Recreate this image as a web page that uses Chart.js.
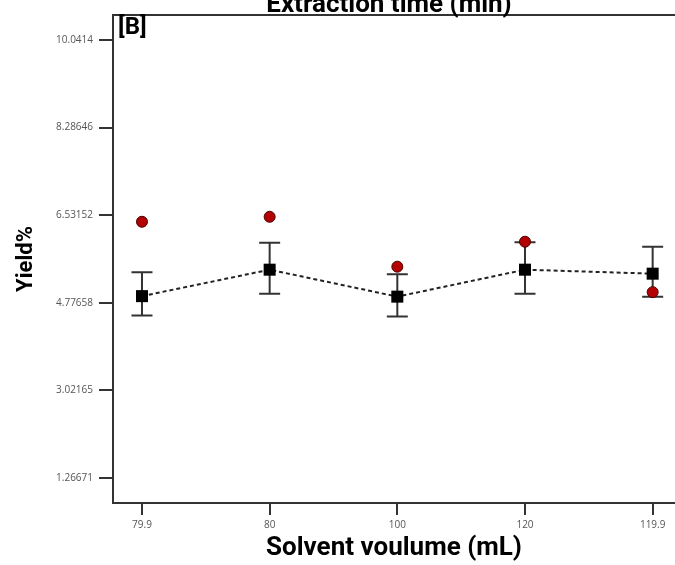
<!DOCTYPE html>
<html>
<head>
<meta charset="utf-8">
<script src="https://cdn.jsdelivr.net/npm/chart.js@4.4.0/dist/chart.umd.min.js"></script>
<style>
  html, body { margin: 0; padding: 0; background: #fff; overflow: hidden; }
  #wrap { width: 675px; height: 565px; }
  canvas { display: block; }
</style>
</head>
<body>
<div id="wrap"><canvas id="grafica" width="675" height="565"></canvas></div>
<script>
// categorias del eje x (volumen de disolvente)
var categorias = ["79.9", "80", "100", "120", "119.9"];
// marcas del eje y
var ticksY = [1.26671, 3.02165, 4.77658, 6.53152, 8.28646, 10.0414];
// valores predichos (cuadrados) y barras de error
var media = [4.91, 5.44, 4.90, 5.44, 5.36];
var errorArriba = [5.39, 5.98, 5.35, 5.99, 5.90];
var errorAbajo = [4.52, 4.96, 4.50, 4.96, 4.90];
// valores experimentales (puntos rojos)
var experimental = [6.40, 6.50, 5.50, 6.00, 4.99];

var puntosMedia = media.map(function (v, i) { return {x: i, y: v}; });
var puntosExp = experimental.map(function (v, i) { return {x: i, y: v}; });

// dibuja las barras de error antes de los datasets
var barrasError = {
    id: 'barrasError',
    beforeDatasetsDraw: function (chart) {
        var ctx = chart.ctx;
        var xs = chart.scales.x, ys = chart.scales.y;
        ctx.save();
        ctx.strokeStyle = '#333';
        ctx.lineWidth = 2;
        for (var i = 0; i < categorias.length; i++) {
            var x = xs.getPixelForValue(i);
            var y1 = ys.getPixelForValue(errorAbajo[i]);
            var y2 = ys.getPixelForValue(errorArriba[i]);
            ctx.beginPath();
            ctx.moveTo(x, y1); ctx.lineTo(x, y2);
            ctx.moveTo(x - 10.5, y1); ctx.lineTo(x + 10.5, y1);
            ctx.moveTo(x - 10.5, y2); ctx.lineTo(x + 10.5, y2);
            ctx.stroke();
        }
        ctx.restore();
    }
};

// textos extra: titulo cortado arriba, etiqueta [B] y borde superior
var textos = {
    id: 'textos',
    afterDraw: function (chart) {
        var ctx = chart.ctx;
        var a = chart.chartArea;
        ctx.save();
        ctx.strokeStyle = '#333';
        ctx.lineWidth = 2;
        ctx.beginPath();
        ctx.moveTo(a.left, a.top); ctx.lineTo(chart.width, a.top);
        ctx.stroke();
        ctx.fillStyle = '#000';
        ctx.font = 'bold 26px Roboto';
        ctx.textAlign = 'center';
        ctx.textBaseline = 'alphabetic';
        ctx.fillText('Extraction time (min)', 389, 12);
        ctx.font = 'bold 24px Roboto';
        ctx.textAlign = 'left';
        ctx.textBaseline = 'top';
        ctx.fillText('[B]', a.left + 5, a.top + 1);
        ctx.restore();
    }
};

var opciones = {
    responsive: false,
    animation: false,
    layout: { autoPadding: false, padding: { top: 15, right: 0, left: 0, bottom: 0 } },
    plugins: { legend: { display: false }, tooltip: { enabled: false } },
    scales: {
        x: {
            type: 'linear',
            min: -0.227,
            max: 4.175,
            afterBuildTicks: function (s) {
                s.ticks = categorias.map(function (c, i) { return {value: i}; });
            },
            afterFit: function (s) {
                s.height = 62;
                s.paddingRight = 0;
                s.paddingLeft = 0;
            },
            ticks: {
                callback: function (v) { return categorias[v]; },
                color: '#555',
                font: { family: 'Open Sans', size: 10 },
                padding: 4,
                maxRotation: 0
            },
            grid: { drawOnChartArea: false, drawTicks: true, tickLength: 12, color: '#333', lineWidth: 2 },
            border: { color: '#333', width: 2 },
            title: {
                display: true,
                text: 'Solvent voulume (mL)',
                color: '#000',
                font: { family: 'Roboto', size: 26, weight: 'bold' },
                padding: { top: 0, bottom: 1 }
            }
        },
        y: {
            type: 'linear',
            min: 0.766,
            max: 10.542,
            afterBuildTicks: function (s) {
                s.ticks = ticksY.map(function (v) { return {value: v}; });
            },
            afterFit: function (s) { s.width = 113; },
            ticks: {
                callback: function (v) { return String(v); },
                color: '#555',
                font: { family: 'Open Sans', size: 10 },
                padding: 6
            },
            grid: { drawOnChartArea: false, drawTicks: true, tickLength: 14, color: '#333', lineWidth: 2 },
            border: { color: '#333', width: 2 },
            title: {
                display: true,
                text: 'Yield%',
                color: '#000',
                font: { family: 'Roboto', size: 22, weight: 'bold' },
                padding: { top: 13, bottom: 0 }
            }
        }
    }
};

var grafica = new Chart("grafica", {
    type: 'scatter',
    data: {
        datasets: [{
                label: 'Experimental',
                data: puntosExp,
                pointStyle: 'circle',
                pointRadius: 5.5,
                backgroundColor: '#b30000',
                borderColor: '#4a0000',
                borderWidth: 1
            }, {
                label: 'Predicho',
                data: puntosMedia,
                showLine: true,
                borderColor: '#222',
                borderWidth: 2,
                borderDash: [4, 3],
                pointStyle: 'rect',
                pointRadius: 8.5,
                pointBackgroundColor: '#000',
                pointBorderColor: '#000',
                pointBorderWidth: 0
            }]
    },
    options: opciones,
    plugins: [barrasError, textos]
});
</script>
</body>
</html>
